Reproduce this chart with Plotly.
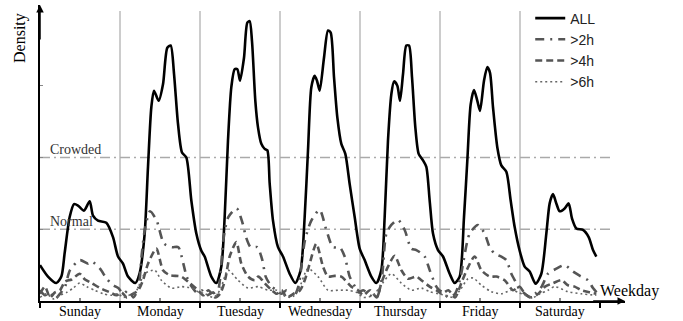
import plotly.graph_objects as go

# ---------------- data (hours since Sunday 00:00, density in "Normal" units) -------------
days = ["Sunday", "Monday", "Tuesday", "Wednesday", "Thursday", "Friday", "Saturday"]

all_h = [0, 2.4, 4.9, 6.4, 7.4, 8.9, 10.2, 11.4, 13.2, 14.9, 15.9, 17.4, 19.9, 21.9, 23.4,
         24.9, 26.4, 28.6, 29.9, 31.4, 32.4, 33.4, 34.2, 35.6, 36.9, 38.2, 39.2, 40.2, 41.4, 42.6, 43.9, 45.4, 46.9, 48.4,
         49.4, 51.4, 52.9, 54.4, 55.4, 56.4, 57.4, 58.4, 59.2, 60.0, 61.2, 62.2, 62.9, 63.6, 64.6, 65.4, 66.4, 67.4, 68.2, 68.9, 69.9, 71.4,
         72.9, 74.9, 76.6, 78.2, 79.4, 80.4, 81.4, 82.4, 83.1, 83.9, 85.2, 86.4, 87.2, 88.2, 89.2, 90.4, 91.6, 92.9, 94.4, 95.9,
         97.4, 99.4, 100.9, 102.4, 103.4, 104.4, 105.4, 106.2, 107.2, 108.0, 108.9, 109.9, 110.7, 111.6, 112.6, 113.6, 114.9, 115.9, 116.9, 117.9, 119.4,
         120.9, 122.9, 124.4, 125.9, 127.2, 128.2, 129.2, 130.2, 131.2, 132.0, 133.2, 134.2, 135.0, 135.9, 137.2, 138.4, 139.9, 141.2, 142.4, 143.9,
         145.4, 146.9, 148.7, 150.4, 151.9, 152.9, 153.9, 154.9, 155.9, 157.4, 158.6, 159.6, 160.9, 162.9, 164.6, 165.9, 166.9]
all_v = [0.5, 0.34, 0.25, 0.34, 0.67, 1.17, 1.35, 1.33, 1.26, 1.39, 1.19, 1.12, 1.09, 0.89, 0.62,
         0.52, 0.34, 0.25, 0.39, 0.94, 1.87, 2.7, 2.93, 2.79, 3.02, 3.53, 3.56, 3.17, 2.47, 2.07, 2.0, 1.4, 0.94, 0.7,
         0.62, 0.34, 0.25, 0.48, 1.17, 2.24, 2.98, 3.23, 3.23, 3.07, 3.39, 3.88, 3.9, 3.62, 2.79, 2.42, 2.19, 2.12, 2.1, 1.64, 1.12, 0.75,
         0.62, 0.38, 0.25, 0.43, 1.17, 2.1, 2.98, 3.14, 3.07, 2.93, 3.39, 3.77, 3.74, 3.12, 2.56, 2.19, 2.05, 1.63, 1.17, 0.73,
         0.57, 0.34, 0.25, 0.43, 1.17, 2.24, 2.88, 3.06, 3.0, 2.79, 3.16, 3.56, 3.56, 3.12, 2.42, 2.05, 1.96, 1.87, 1.4, 0.94, 0.71,
         0.62, 0.38, 0.25, 0.34, 1.17, 1.96, 2.74, 2.94, 2.79, 2.65, 3.07, 3.26, 3.18, 2.7, 2.14, 1.89, 1.8, 1.4, 1.03, 0.7,
         0.48, 0.41, 0.24, 0.38, 0.94, 1.36, 1.49, 1.36, 1.25, 1.29, 1.36, 1.15, 1.01, 0.99, 0.89, 0.71, 0.62]

h2_h = [0, 1.5, 3, 4.5, 6, 7.5, 9, 12, 14.5, 15.5, 18, 20, 22, 23.5,
        25, 26.5, 28, 29.5, 30.5, 31.5, 33, 35, 37.2, 39.5, 41.5, 43, 44, 45.5, 47,
        48.5, 50, 52, 53, 54, 55, 56.5, 59, 60.8, 61.8, 63.2, 65.2, 66.7, 67.7, 69.5, 71,
        72.5, 74, 76, 77.5, 79.5, 81.4, 83.9, 85.9, 87.9, 89.9, 91.4, 92.9, 94.5, 95.5,
        97, 99, 101, 102.5, 103.9, 105.4, 107.4, 109.4, 111.4, 112.9, 115.4, 116.9, 118.9, 119.8,
        121, 122.5, 124.5, 126, 128.9, 131.4, 133.4, 134.9, 136.4, 138.4, 139.9, 141.4, 142.9, 144,
        145.5, 147, 149, 150.5, 152.4, 154.9, 157.4, 159.9, 162, 164.4, 165.9, 167]
h2_v = [0.15, 0.08, 0.12, 0.03, 0.1, 0.2, 0.43, 0.57, 0.52, 0.55, 0.45, 0.31, 0.22, 0.18,
        0.1, 0.15, 0.05, 0.18, 0.64, 1.01, 1.25, 1.12, 0.8, 0.75, 0.75, 0.52, 0.34, 0.2, 0.12,
        0.15, 0.08, 0.12, 0.05, 0.3, 0.85, 1.17, 1.29, 1.08, 0.89, 0.75, 0.75, 0.57, 0.34, 0.2, 0.15,
        0.1, 0.15, 0.05, 0.2, 0.85, 1.12, 1.27, 0.99, 0.75, 0.75, 0.62, 0.34, 0.2, 0.12,
        0.15, 0.08, 0.05, 0.3, 0.94, 1.06, 1.13, 0.99, 0.73, 0.71, 0.62, 0.43, 0.2, 0.15,
        0.12, 0.05, 0.1, 0.3, 0.94, 1.06, 0.94, 0.75, 0.66, 0.62, 0.57, 0.38, 0.25, 0.15,
        0.1, 0.05, 0.12, 0.2, 0.38, 0.45, 0.5, 0.41, 0.35, 0.29, 0.18, 0.12]

h4_h = [0, 1.5, 3, 4.5, 6, 7.5, 9.5, 11.9, 13.5, 15.5, 18, 21, 23,
        24.5, 26, 28, 29.5, 30.9, 32.4, 34.9, 36.9, 38.9, 42.4, 44.9, 47.4,
        49, 50.5, 52.5, 54, 55.5, 56.9, 58.9, 60.4, 62.4, 64.4, 65.5, 67.4, 69.5, 71,
        72.5, 74, 76, 78, 79.5, 80.9, 82.9, 84.9, 86.4, 88.4, 90.4, 93.4, 95.4,
        97, 99, 101, 102.4, 104.4, 106.4, 108.4, 110.4, 112.9, 114.4, 116.9, 118.9,
        120.5, 122.5, 124.5, 126.4, 128, 130.4, 132.4, 134.9, 136.9, 139.4, 141.9, 143.9,
        145.5, 147.5, 149.5, 151.5, 154, 156.4, 158.4, 160.4, 162.4, 165, 166.9]
h4_v = [0.1, 0.2, 0.05, 0.12, 0.15, 0.27, 0.3, 0.38, 0.3, 0.25, 0.18, 0.12, 0.08,
        0.12, 0.05, 0.1, 0.15, 0.29, 0.52, 0.73, 0.43, 0.36, 0.34, 0.25, 0.15,
        0.08, 0.15, 0.05, 0.1, 0.29, 0.62, 0.82, 0.52, 0.34, 0.29, 0.34, 0.25, 0.15, 0.1,
        0.15, 0.05, 0.1, 0.15, 0.3, 0.52, 0.8, 0.48, 0.34, 0.35, 0.34, 0.2, 0.15,
        0.08, 0.15, 0.05, 0.25, 0.48, 0.63, 0.43, 0.31, 0.34, 0.29, 0.2, 0.15,
        0.1, 0.15, 0.05, 0.25, 0.43, 0.62, 0.43, 0.34, 0.34, 0.29, 0.15, 0.2,
        0.1, 0.05, 0.1, 0.2, 0.25, 0.29, 0.22, 0.2, 0.15, 0.12, 0.1]

h6_h = [0, 2, 4, 6, 8, 10, 11.9, 14, 16.4, 19, 21.4, 23.5,
        25, 27.5, 29, 31.4, 34.4, 36.4, 39.4, 42.4, 45.4, 47.4,
        49.5, 52, 54, 56.4, 59.4, 62.4, 65.4, 68.4, 71,
        73, 75.5, 77.5, 80.4, 83.4, 86.4, 89.4, 92.4, 95,
        97, 100, 102, 105.4, 108.4, 111.4, 114.4, 116.9, 119.5,
        121.5, 124, 126, 128.4, 130, 132.4, 135.4, 138.4, 141.4, 143.5,
        145.5, 148, 150, 152.4, 154.4, 158.4, 162.4, 166.9]
h6_v = [0.05, 0.1, 0.03, 0.08, 0.12, 0.18, 0.25, 0.2, 0.15, 0.1, 0.08, 0.1,
        0.05, 0.1, 0.15, 0.38, 0.43, 0.29, 0.18, 0.2, 0.18, 0.13,
        0.1, 0.05, 0.15, 0.43, 0.29, 0.18, 0.2, 0.15, 0.15,
        0.08, 0.05, 0.15, 0.45, 0.34, 0.15, 0.15, 0.15, 0.12,
        0.05, 0.08, 0.2, 0.38, 0.25, 0.15, 0.18, 0.13, 0.1,
        0.08, 0.05, 0.15, 0.31, 0.32, 0.22, 0.13, 0.1, 0.15, 0.12,
        0.08, 0.05, 0.1, 0.15, 0.2, 0.13, 0.1, 0.08]

levels = {"Normal": 1.0, "Crowded": 2.0}

# ---------------- figure -------------
SERIF = "Liberation Serif, Times New Roman, serif"
SANS = "Liberation Sans, Arial, sans-serif"
X_MAX = 175.5
Y_MAX = 4.125

fig = go.Figure()
series = [
    ("ALL", all_h, all_v, dict(color="#000000", width=2.6, dash="solid")),
    (">2h", h2_h, h2_v, dict(color="#555555", width=2.6, dash="9px,6px,2px,6px")),
    (">4h", h4_h, h4_v, dict(color="#555555", width=2.6, dash="7px,4px")),
    (">6h", h6_h, h6_v, dict(color="#666666", width=1.6, dash="2px,3px")),
]
for name, xs, ys, ln in series:
    fig.add_trace(go.Scatter(x=xs, y=ys, mode="lines", name=name, legendgroup=name,
                             line=dict(shape="spline", smoothing=0.7, **ln)))

# day separators
for k in range(1, 7):
    fig.add_shape(type="line", xref="x", yref="y", x0=24 * k, x1=24 * k, y0=0, y1=4.04,
                  line=dict(color="#bbbbbb", width=1.5), layer="below")
# level lines + labels
for lab, val in levels.items():
    fig.add_shape(type="line", xref="x", yref="y", x0=0, x1=171.3, y0=val, y1=val,
                  line=dict(color="#aaaaaa", width=1.5, dash="10px,4px,2px,4px"), layer="below")
    fig.add_annotation(x=2.4, y=val, xref="x", yref="y", text=lab, showarrow=False,
                       xanchor="left", yanchor="bottom", yshift=-2,
                       font=dict(family=SERIF, size=14, color="#333333"))

# day labels
for i, d in enumerate(days):
    fig.add_annotation(x=24 * i + 12, y=0, xref="x", yref="y", text=d, showarrow=False,
                       yanchor="top", yshift=-1, font=dict(family=SERIF, size=14, color="#000000"))

# axis arrows
fig.add_annotation(x=X_MAX, y=0, ax=X_MAX - 10, ay=0, xref="x", yref="y", axref="x", ayref="y",
                   text="", showarrow=True, arrowhead=2, arrowsize=1, arrowwidth=1.5, arrowcolor="#000")
fig.add_annotation(x=0, y=Y_MAX, ax=0, ay=Y_MAX - 0.5, xref="x", yref="y", axref="x", ayref="y",
                   text="", showarrow=True, arrowhead=2, arrowsize=1, arrowwidth=1.5, arrowcolor="#000")

fig.add_annotation(x=-0.034, y=0.889, xref="paper", yref="paper", text="Density", textangle=-90,
                   showarrow=False, xanchor="center", yanchor="middle",
                   font=dict(family=SERIF, size=16, color="#000000"))
fig.add_annotation(x=0.954, y=0.034, xref="paper", yref="paper", text="Weekday",
                   showarrow=False, xanchor="left", yanchor="middle",
                   font=dict(family=SERIF, size=16, color="#000000"))

fig.update_layout(
    width=683, height=321, autosize=False,
    margin=dict(l=40, r=58, t=4, b=20),
    plot_bgcolor="white", paper_bgcolor="white",
    showlegend=True,
    legend=dict(x=0.838, y=1.005, xanchor="left", yanchor="top", bgcolor="rgba(0,0,0,0)",
                font=dict(family=SANS, size=14, color="#222222"), itemwidth=30,
                tracegroupgap=3, traceorder="normal"),
    xaxis=dict(range=[0, X_MAX], showgrid=False, zeroline=False, showline=True,
               linecolor="#000", linewidth=1.5, tickmode="array",
               tickvals=[24 * k for k in range(8)], ticktext=[""] * 8,
               ticks="outside", ticklen=5, tickwidth=1.5, tickcolor="#000",
               minor=dict(tickmode="array", tickvals=[24 * k + 12 for k in range(7)],
                          ticks="inside", ticklen=3, tickcolor="#888")),
    yaxis=dict(range=[0, Y_MAX], showgrid=False, zeroline=False, showline=True,
               linecolor="#000", linewidth=1.5, tickmode="array", tickvals=[1, 2, 3],
               ticktext=["", "", ""], ticks="inside", ticklen=3, tickcolor="#888"),
)

fig.write_html("out.html", config={"displayModeBar": False},
               post_script="document.body.style.margin='0';document.body.style.overflow='hidden';")
